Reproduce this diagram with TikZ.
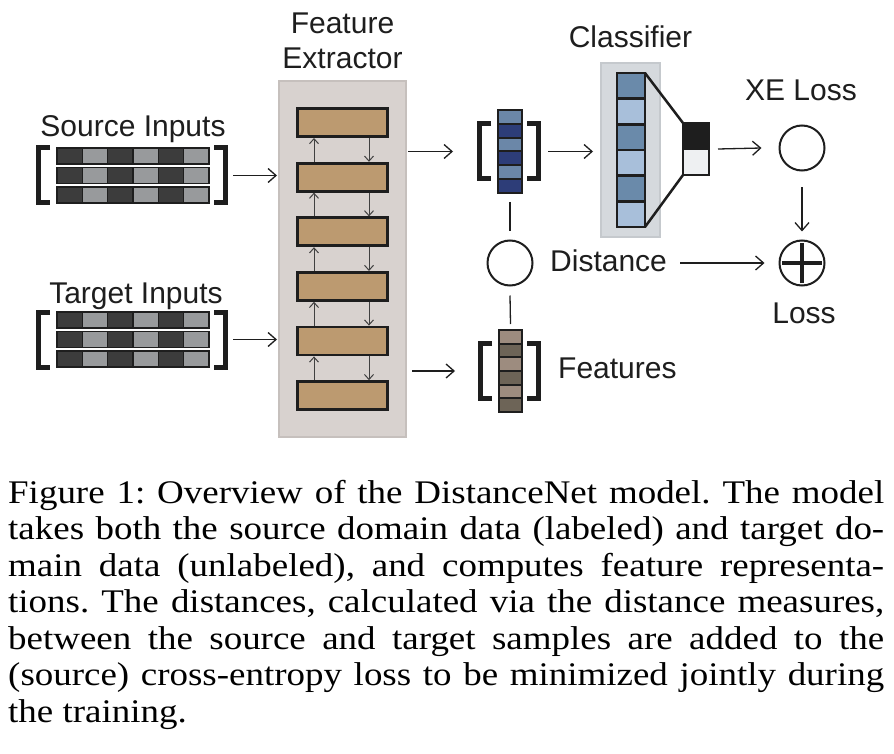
\documentclass[tikz,border=0pt]{standalone}
\usepackage{fontspec}
\setmainfont{Liberation Serif}
\newfontfamily\arialfont{Liberation Sans}
\newfontfamily\capfont{Liberation Serif}[FakeStretch=1.12]
\usetikzlibrary{arrows.meta, positioning, calc}
\definecolor{inkblack}{HTML}{1E1E1E}
\definecolor{inpdark}{HTML}{3C3C3C}
\definecolor{inplight}{HTML}{989A9C}
\definecolor{fepanel}{HTML}{D8D2CF}
\definecolor{feborder}{HTML}{C6C0BD}
\definecolor{fetan}{HTML}{BC9A70}
\definecolor{srclight}{HTML}{6B87A8}
\definecolor{srcdark}{HTML}{2D3D78}
\definecolor{tgtlight}{HTML}{9D8C7F}
\definecolor{tgtdark}{HTML}{6D6457}
\definecolor{clfpanel}{HTML}{D5D9DD}
\definecolor{clfborder}{HTML}{C5C9CD}
\definecolor{clfdark}{HTML}{6A8AAA}
\definecolor{clflight}{HTML}{A8BFDA}
\definecolor{outwhite}{HTML}{EEF0F2}

\tikzset{
  lbl/.style={font=\arialfont\fontsize{30}{35}\selectfont, text=inkblack, inner sep=0pt},
  flow/.style={line width=1.3pt, draw=inkblack, -{Straight Barb[length=8pt,width=14pt]}},
  innerflow/.style={line width=1pt, draw=inkblack!85, -{Straight Barb[length=5pt,width=9pt]}},
  link/.style={line width=1.3pt, draw=inkblack},
  holder/.style={rectangle, inner sep=0pt, outer sep=0pt},
  feblock/.style={draw=inkblack, line width=2.8pt, fill=fetan, minimum width=90pt, minimum height=28pt, inner sep=0pt},
  op/.style={circle, draw=inkblack, line width=2pt, minimum size=45pt, inner sep=0pt},
  brak/.style={line width=5pt, draw=inkblack, line join=miter},
}

\begin{document}
\begin{tikzpicture}[x=1pt, y=-1pt]
  \useasboundingbox[fill=white] (0,0) rectangle (894,754);

  % inputs
  \node[lbl, anchor=base] (srclbl) at (133,137) {Source Inputs};
  \node[holder, minimum width=152pt, minimum height=55pt] (src) at (133,175.5) {};
  \node[lbl, anchor=base] (tgtlbl) at (136,303) {Target Inputs};
  \node[holder, minimum width=152pt, minimum height=55pt] (tgt) at (133,339.5) {};
  \foreach \m in {src,tgt}
    \foreach \r in {0,1,2}
      \foreach \c in {0,...,5} {
        \ifodd\c \def\cellcol{inplight}\else \def\cellcol{inpdark}\fi
        \draw[fill=\cellcol, draw=inkblack, line width=1.2pt] ($(\m.north west)+(\c*25.33,\r*19.5)$) rectangle ++(25.33,16);
      }

  % feature extractor
  \node[holder, fill=fepanel, draw=feborder, line width=1.5pt, minimum width=127pt, minimum height=356pt] (fe) at (342.5,259) {};
  \node[lbl, align=center, above=12pt of fe] (felbl) {Feature\\Extractor};
  \foreach \i in {1,...,6}
    \node[feblock] (b\i) at (342.5,68+54.6*\i) {};
  \foreach \i/\j in {1/2,2/3,3/4,4/5,5/6} {
    \draw[innerflow] ([xshift=-28.5pt]b\j.north) -- ([xshift=-28.5pt]b\i.south);
    \draw[innerflow] ([xshift=26.5pt]b\i.south) -- ([xshift=26.5pt]b\j.north);
  }

  % feature vectors
  \node[holder, minimum width=24pt, minimum height=83pt] (srcfeat) at (510,151.5) {};
  \node[holder, minimum width=23pt, minimum height=82pt] (tgtfeat) at (510.5,371) {};
  \foreach \i in {0,...,5} {
    \ifodd\i \def\cellcol{srcdark}\else \def\cellcol{srclight}\fi
    \draw[fill=\cellcol, draw=inkblack, line width=2pt] ($(srcfeat.north west)+(0,\i*13.83)$) rectangle ++(24,13.83);
    \ifodd\i \def\cellcol{tgtdark}\else \def\cellcol{tgtlight}\fi
    \draw[fill=\cellcol, draw=inkblack, line width=2pt] ($(tgtfeat.north west)+(0,\i*13.67)$) rectangle ++(23,13.67);
  }
  \foreach \m in {src,tgt,srcfeat,tgtfeat} {
    \draw[brak] ($(\m.west)+(-7,-27.5)$) -- ++(-11.5,0) -- ++(0,55) -- ++(11.5,0);
    \draw[brak] ($(\m.east)+(5,-27.5)$) -- ++(11.5,0) -- ++(0,55) -- ++(-11.5,0);
  }
  \node[lbl, anchor=base west] (featlbl) at (558,378) {Features};

  % classifier
  \node[lbl, anchor=base] (clflbl) at (630.5,48) {Classifier};
  \node[holder, fill=clfpanel, draw=clfborder, line width=1.5pt, minimum width=59pt, minimum height=174pt] (clfbox) at (630.5,150) {};
  \node[holder, minimum width=28pt, minimum height=154pt] (clf) at (631,150) {};
  \node[holder, minimum width=26pt, minimum height=52pt] (out) at (696,149) {};
  \draw[line width=2.5pt, draw=inkblack] (clf.north east) -- (out.north west) (clf.south east) -- (out.south west);
  \foreach \i in {0,...,5} {
    \ifodd\i \def\cellcol{clflight}\else \def\cellcol{clfdark}\fi
    \draw[fill=\cellcol, draw=inkblack, line width=2.5pt] ($(clf.north west)+(0,\i*25.67)$) rectangle ++(28,25.67);
  }
  \fill[inkblack] (out.north west) rectangle (out.east);
  \fill[outwhite] (out.west) rectangle (out.south east);
  \draw[line width=2.5pt, draw=inkblack] (out.north west) rectangle (out.south east) (out.west) -- (out.east);

  % losses
  \node[op] (dist) at (510,263) {};
  \node[lbl, anchor=base west] (distlbl) at (550,271) {Distance};
  \node[op] (xe) at (802,148) {};
  \node[lbl, anchor=base] (xelbl) at (801,101) {XE Loss};
  \node[op] (plus) at (802,263) {};
  \draw[line width=3.5pt, draw=inkblack] ([xshift=-20pt]plus.center) -- ([xshift=20pt]plus.center) ([yshift=-20pt]plus.center) -- ([yshift=20pt]plus.center);
  \node[lbl, anchor=base] (losslbl) at (804,323) {Loss};

  % connectors
  \draw[flow] ([xshift=24pt]src.east) -- ($(src.east -| fe.west)+(-2,0)$);
  \draw[flow] ([xshift=24pt]tgt.east) -- ($(tgt.east -| fe.west)+(-2,0)$);
  \draw[flow] ($(fe.east |- srcfeat.center)+(2,0)$) -- ($(srcfeat.west)+(-45,0)$);
  \draw[flow] ($(fe.east |- tgtfeat.center)+(6,0)$) -- ($(tgtfeat.west)+(-44,0)$);
  \draw[flow] ($(srcfeat.east)+(26,0)$) -- ($(srcfeat.east -| clfbox.west)+(-8,0)$);
  \draw[flow] ($(out.east)+(9,0)$) -- ($(xe.west)+(-17,0)$);
  \draw[flow] ([yshift=-16pt]xe.south) -- ([yshift=8pt]plus.north);
  \draw[link] ([yshift=-9pt]srcfeat.south) -- ([yshift=8pt]dist.north);
  \draw[link] ([yshift=-9pt]dist.south) -- ([yshift=6pt]tgtfeat.north);
  \draw[flow] ($(distlbl.east |- dist.center)+(13,0)$) -- ($(plus.west)+(-14,0)$);

  % caption
  \node[anchor=base west, text width=876pt, align=justify, inner sep=0pt, text=black,
        font=\capfont\fontsize{33}{36.5}\selectfont] (caption) at (8,503)
    {\frenchspacing\tolerance=9999\relax\hyphenpenalty=10000\relax
     Figure 1: Overview of the DistanceNet model. The model\linebreak
     takes both the source domain data (labeled) and target do-\linebreak
     main data (unlabeled), and computes feature representa-\linebreak
     tions. The distances, calculated via the distance measures,\linebreak
     between the source and target samples are added to the\linebreak
     (source) cross-entropy loss to be minimized jointly during\linebreak
     the training.};
\end{tikzpicture}
\end{document}
